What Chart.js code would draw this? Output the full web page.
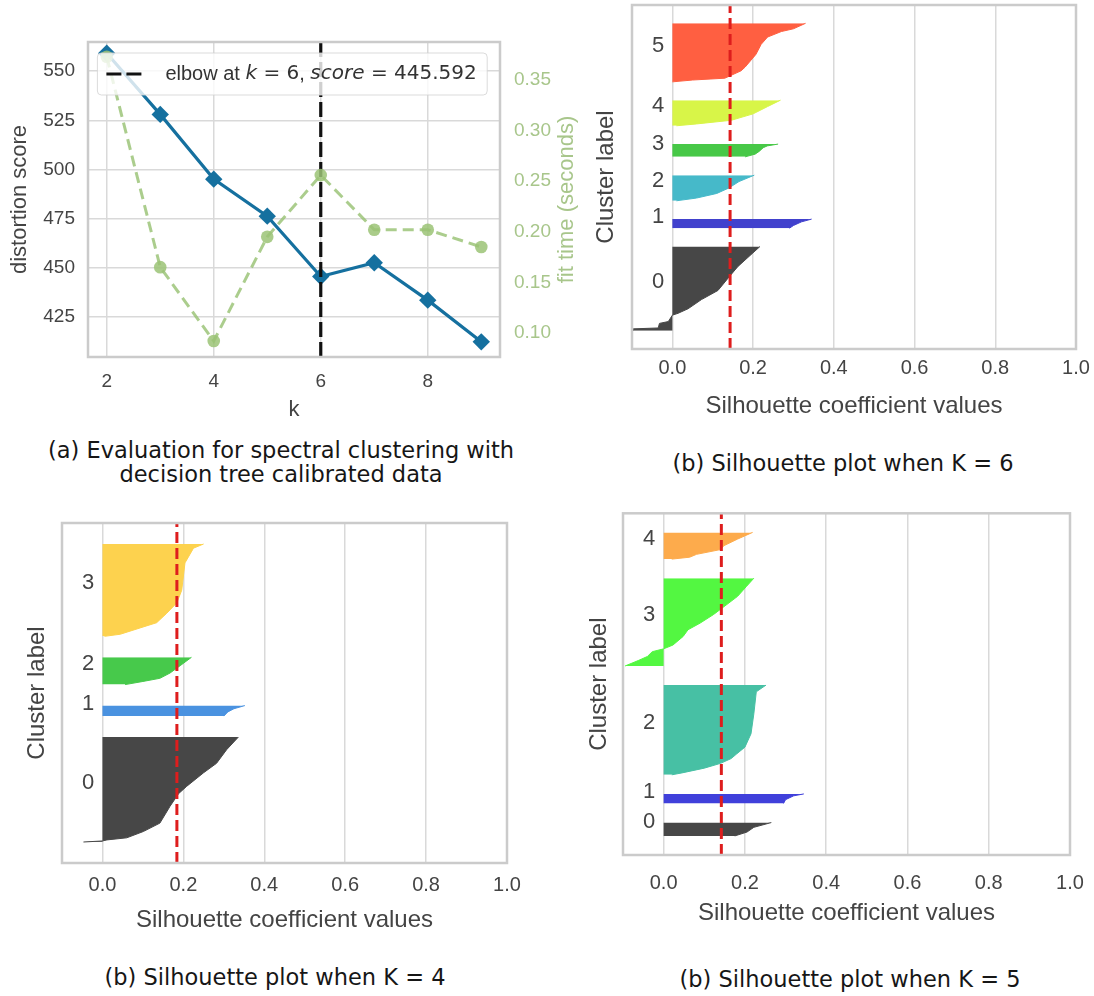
<!DOCTYPE html>
<html><head><meta charset="utf-8">
<script src="https://cdn.jsdelivr.net/npm/chart.js@4.4.0/dist/chart.umd.min.js"></script>
<style>
html,body{margin:0;padding:0;background:#fff;}
body{width:1094px;height:996px;position:relative;overflow:hidden;}
canvas{position:absolute;}
.cap{position:absolute;font-family:'DejaVu Sans',Verdana,sans-serif;font-size:22.5px;color:#161616;text-align:center;line-height:24px;white-space:nowrap;}
</style></head><body>
<canvas id="cA" width="600" height="430" style="left:0;top:0"></canvas>
<canvas id="cB" width="514" height="430" style="left:580px;top:0"></canvas>
<canvas id="cC" width="540" height="450" style="left:0;top:500px"></canvas>
<canvas id="cD" width="534" height="450" style="left:560px;top:500px"></canvas>
<div class="cap" style="left:31px;top:438px;width:500px">(a) Evaluation for spectral clustering with<br>decision tree calibrated data</div>
<div class="cap" style="left:593px;top:451px;width:500px">(b) Silhouette plot when K = 6</div>
<div class="cap" style="left:25px;top:965px;width:500px">(b) Silhouette plot when K = 4</div>
<div class="cap" style="left:600px;top:967px;width:500px">(b) Silhouette plot when K = 5</div>
<script>
// ---------- (a) elbow evaluation ----------
const kValues = [2, 3, 4, 5, 6, 7, 8, 9];
const distortionScores = [559.1, 528.0, 495.1, 476.3, 445.592, 452.6, 433.6, 412.4];
const fitTimes = [0.373, 0.165, 0.092, 0.195, 0.256, 0.202, 0.202, 0.185];
const elbowK = 6;
const elbowScore = 445.592;
const kTicks = [2, 4, 6, 8];
const distortionTicks = [425, 450, 475, 500, 525, 550];
const fitTimeTicks = [0.10, 0.15, 0.20, 0.25, 0.30, 0.35];

// ---------- silhouette panels ----------
const silhouetteTicks = [0.0, 0.2, 0.4, 0.6, 0.8, 1.0];

// K = 6 : outlines as [silhouette value, sample position]
const k6Labels = ['0', '1', '2', '3', '4', '5'];
const k6Centers = [33, 68.5, 88, 108.5, 129, 162];
const k6Top = 188;
const k6Average = 0.143;
const k6Cluster0 = [[-0.097,10],[-0.097,11],[-0.035,11.5],[-0.032,14],[-0.01,15],[0,18.5],[0.014,19.5],[0.039,22],[0.072,27],[0.113,32],[0.141,39.5],[0.162,45],[0.187,50],[0.217,56]];
const k6Cluster1 = [[0.29,66],[0.30,67.5],[0.32,69.5],[0.345,71]];
const k6Cluster2 = [[0.01,81],[0.06,82.5],[0.11,85],[0.14,88],[0.165,91.5],[0.203,95]];
const k6Cluster3 = [[0.18,105],[0.205,106.5],[0.215,108],[0.225,110],[0.235,111],[0.262,112]];
const k6Cluster4 = [[0.01,122],[0.06,123],[0.146,125],[0.2,128.5],[0.236,132.5],[0.268,136]];
const k6Cluster5 = [[0,146],[0.05,147],[0.13,148],[0.17,152],[0.18,154],[0.207,161],[0.22,166.5],[0.236,170.5],[0.27,173.5],[0.30,175],[0.33,178]];
const k6Colors = ['#474747', '#4141cd', '#46b9c9', '#47c847', '#d8f548', '#ff5f41'];

// K = 4
const k4Labels = ['0', '1', '2', '3'];
const k4Centers = [35, 72.5, 91.5, 130];
const k4Top = 162;
const k4Average = 0.184;
const k4Cluster0 = [[-0.047,10],[0,10.5],[0.011,11],[0.06,12],[0.101,15],[0.142,19],[0.167,27],[0.188,33],[0.208,36.5],[0.25,43],[0.282,47.5],[0.307,54],[0.336,60]];
const k4Cluster1 = [[0.30,70],[0.31,72],[0.325,73.5],[0.352,75]];
const k4Cluster2 = [[0.056,85],[0.10,86.5],[0.142,88],[0.167,90.5],[0.192,94],[0.22,98]];
const k4Cluster3 = [[0.005,108],[0.044,109],[0.093,112],[0.134,114.5],[0.159,119],[0.184,124],[0.196,130],[0.204,143],[0.225,150],[0.25,152]];
const k4Colors = ['#474747', '#4a92e0', '#47c94b', '#fdd24e'];

// K = 5
const k5Labels = ['0', '1', '2', '3', '4'];
const k5Centers = [13.5, 29.5, 65.5, 122, 162];
const k5Top = 179;
const k5Average = 0.142;
const k5Cluster0 = [[0.175,10],[0.205,12],[0.222,14.5],[0.265,17]];
const k5Cluster1 = [[0.295,27],[0.30,29],[0.32,31],[0.345,32]];
const k5Cluster2 = [[0.02,42],[0.045,43],[0.10,45.5],[0.14,48],[0.166,50.5],[0.18,53],[0.20,56.5],[0.215,63.5],[0.222,74],[0.228,85.5],[0.252,89]];
const k5Cluster3 = [[-0.095,99],[-0.061,102],[-0.04,104],[-0.028,106.5],[0,108],[0.023,110],[0.048,114.5],[0.06,118],[0.09,121.5],[0.123,126],[0.148,130],[0.182,135.5],[0.203,140.5],[0.222,145]];
const k5Cluster4 = [[0.02,155],[0.064,156],[0.081,157.5],[0.14,160],[0.148,162],[0.182,165.5],[0.219,169]];
const k5Colors = ['#474747', '#4040db', '#47c0a4', '#53f741', '#fdab4c'];

// ---------- styling ----------
const FONT = "'Liberation Sans', Arial, Helvetica, sans-serif";
const MATH = "'DejaVu Sans', sans-serif";
const GRID = '#d9d9d9';
const FRAME = '#cbcbcb';
const TXT = '#444444';
const BLUE = '#15709f';
const GREEN = '#a8c68b';

function noScalePadding(s) { s.paddingTop = 0; s.paddingBottom = 0; s.paddingLeft = 0; s.paddingRight = 0; }

const framePlugin = {
  id: 'frame',
  afterDatasetsDraw(chart) {
    const {ctx, chartArea: a} = chart;
    ctx.save();
    ctx.strokeStyle = FRAME; ctx.lineWidth = 2.5;
    ctx.strokeRect(a.left, a.top, a.right - a.left, a.bottom - a.top);
    ctx.restore();
  }
};

const elbowLegend = {
  id: 'elbowLegend',
  afterDatasetsDraw(chart) {
    const {ctx, chartArea: a} = chart;
    const parts = [
      ['elbow at ', '', FONT], ['k', 'italic ', MATH], [' = ' + elbowK, '', MATH],
      [', ', '', FONT], ['score', 'italic ', MATH], [' = ' + elbowScore.toFixed(3), '', MATH]
    ];
    const size = '20px ';
    ctx.save();
    let tw = 0;
    parts.forEach(p => { ctx.font = p[1] + size + p[2]; tw += ctx.measureText(p[0]).width; });
    const bx = a.left + 9.4, by = a.top + 11, bh = 42, bw = 68 + tw + 10.5;
    ctx.beginPath();
    if (ctx.roundRect) ctx.roundRect(bx, by, bw, bh, 4); else ctx.rect(bx, by, bw, bh);
    ctx.fillStyle = 'rgba(255,255,255,0.8)'; ctx.fill();
    ctx.strokeStyle = 'rgba(210,210,210,0.8)'; ctx.lineWidth = 1; ctx.stroke();
    const cy = by + bh / 2;
    ctx.beginPath(); ctx.setLineDash([15, 5]);
    ctx.moveTo(bx + 9, cy); ctx.lineTo(bx + 48, cy);
    ctx.strokeStyle = '#111'; ctx.lineWidth = 3.2; ctx.stroke(); ctx.setLineDash([]);
    let tx = bx + 68;
    ctx.fillStyle = '#333'; ctx.textBaseline = 'middle'; ctx.textAlign = 'left';
    parts.forEach(p => { ctx.font = p[1] + size + p[2]; ctx.fillText(p[0], tx, cy); tx += ctx.measureText(p[0]).width; });
    ctx.restore();
    // right axis title (matplotlib orientation: reads bottom-to-top)
    ctx.save();
    ctx.translate(a.right + 67, (a.top + a.bottom) / 2);
    ctx.rotate(-Math.PI / 2);
    ctx.font = '22px ' + FONT; ctx.fillStyle = GREEN;
    ctx.textAlign = 'center'; ctx.textBaseline = 'middle';
    ctx.fillText('fit time (seconds)', 0, 0);
    ctx.restore();
  }
};

const distMin = 404.7, distMax = 564.8;
new Chart(document.getElementById('cA'), {
  type: 'line',
  data: {datasets: [
    {label: 'fit time', data: kValues.map((k, i) => ({x: k, y: fitTimes[i]})), yAxisID: 'y1',
     borderColor: 'rgba(150,192,112,0.8)', borderWidth: 3, borderDash: [11, 6],
     pointStyle: 'circle', pointRadius: 6.3, pointBackgroundColor: 'rgba(155,195,118,0.85)', pointBorderWidth: 0, fill: false},
    {label: 'elbow', data: [{x: elbowK, y: distMin}, {x: elbowK, y: distMax}], yAxisID: 'y',
     borderColor: '#111', borderWidth: 3.2, borderDash: [15, 5], pointRadius: 0, fill: false},
    {label: 'distortion', data: kValues.map((k, i) => ({x: k, y: distortionScores[i]})), yAxisID: 'y',
     borderColor: BLUE, borderWidth: 3.2, pointStyle: 'rectRot', pointRadius: 8.7,
     pointBackgroundColor: BLUE, pointBorderWidth: 0, fill: false}
  ]},
  options: {
    responsive: false, animation: false,
    layout: {padding: {top: 42, left: 0, right: 0, bottom: 0}},
    plugins: {legend: {display: false}, tooltip: {enabled: false}},
    scales: {
      x: {type: 'linear', min: 1.65, max: 9.35,
          afterBuildTicks: s => { s.ticks = kTicks.map(v => ({value: v})); },
          ticks: {font: {family: FONT, size: 19}, color: TXT, padding: 13.6, maxRotation: 0, autoSkip: false},
          grid: {color: GRID, lineWidth: 1.5, drawTicks: false}, border: {display: false},
          title: {display: true, text: 'k', font: {family: FONT, size: 22}, color: TXT, padding: {top: 0, bottom: 6.8}},
          afterFit: s => { s.height = 73; noScalePadding(s); }},
      y: {type: 'linear', position: 'left', min: distMin, max: distMax,
          afterBuildTicks: s => { s.ticks = distortionTicks.map(v => ({value: v})); },
          ticks: {font: {family: FONT, size: 19}, color: TXT, padding: 13, autoSkip: false},
          grid: {color: GRID, lineWidth: 1.5, drawTicks: false}, border: {display: false},
          title: {display: true, text: 'distortion score', font: {family: FONT, size: 22}, color: TXT, padding: {top: 6.4, bottom: 0}},
          afterFit: s => { s.width = 88; noScalePadding(s); }},
      y1: {type: 'linear', position: 'right', min: 0.0762, max: 0.3876,
          afterBuildTicks: s => { s.ticks = fitTimeTicks.map(v => ({value: v})); },
          ticks: {font: {family: FONT, size: 19}, color: GREEN, padding: 14, autoSkip: false, callback: v => v.toFixed(2)},
          grid: {display: false, drawTicks: false}, border: {display: false},
          afterFit: s => { s.width = 100; noScalePadding(s); }}
    }
  },
  plugins: [framePlugin, elbowLegend]
});

function silhouette(id, cfg) {
  const datasets = [{
    data: [{x: cfg.avg, y: 0}, {x: cfg.avg, y: cfg.top}],
    borderColor: '#de1d1d', borderWidth: 3, borderDash: [11, 5], pointRadius: 0, fill: false
  }];
  cfg.clusters.forEach((c, i) => datasets.push({
    data: c.map(([v, s]) => ({x: v, y: s})),
    borderColor: cfg.colors[i], backgroundColor: cfg.colors[i], borderWidth: 1,
    pointRadius: 0, fill: 'origin', tension: 0
  }));
  new Chart(document.getElementById(id), {
    type: 'line',
    data: {datasets},
    options: {
      indexAxis: 'y', responsive: false, animation: false,
      layout: {padding: {top: cfg.padTop, right: cfg.padRight, left: 0, bottom: 0}},
      plugins: {legend: {display: false}, tooltip: {enabled: false}},
      scales: {
        x: {type: 'linear', min: -0.1, max: 1.0,
            afterBuildTicks: s => { s.ticks = silhouetteTicks.map(v => ({value: v})); },
            ticks: {callback: v => v.toFixed(1), font: {family: FONT, size: 20}, color: TXT, padding: cfg.tickPad, maxRotation: 0, autoSkip: false},
            grid: {color: GRID, lineWidth: 1.5, drawTicks: false}, border: {display: false},
            title: {display: true, text: 'Silhouette coefficient values', font: {family: FONT, size: 24}, color: TXT, padding: {top: 0, bottom: cfg.titlePad}},
            afterFit: s => { s.height = cfg.xHeight; noScalePadding(s); }},
        y: {type: 'linear', min: 0, max: cfg.top,
            afterBuildTicks: s => { s.ticks = cfg.centers.map(v => ({value: v})); },
            ticks: {mirror: true, padding: 20, labelOffset: -7, callback: (v, i) => cfg.labels[i],
                    font: {family: FONT, size: 22}, color: TXT, autoSkip: false},
            grid: {display: false, drawTicks: false}, border: {display: false},
            title: {display: true, text: 'Cluster label', font: {family: FONT, size: 24}, color: TXT, padding: {top: cfg.yTitlePad, bottom: 0}},
            afterFit: s => { s.width = cfg.yWidth; noScalePadding(s); }}
      }
    },
    plugins: [framePlugin]
  });
}

silhouette('cB', {clusters: [k6Cluster0, k6Cluster1, k6Cluster2, k6Cluster3, k6Cluster4, k6Cluster5], colors: k6Colors,
  labels: k6Labels, centers: k6Centers, top: k6Top, avg: k6Average,
  padTop: 5, padRight: 18, yWidth: 52, xHeight: 81, tickPad: 7, titlePad: 9, yTitlePad: 12});
silhouette('cC', {clusters: [k4Cluster0, k4Cluster1, k4Cluster2, k4Cluster3], colors: k4Colors,
  labels: k4Labels, centers: k4Centers, top: k4Top, avg: k4Average,
  padTop: 23, padRight: 33, yWidth: 62, xHeight: 87, tickPad: 10, titlePad: 15, yTitlePad: 23});
silhouette('cD', {clusters: [k5Cluster0, k5Cluster1, k5Cluster2, k5Cluster3, k5Cluster4], colors: k5Colors,
  labels: k5Labels, centers: k5Centers, top: k5Top, avg: k5Average,
  padTop: 13.3, padRight: 24, yWidth: 63, xHeight: 95, tickPad: 16, titlePad: 22.6, yTitlePad: 24.6});
</script>
</body></html>
